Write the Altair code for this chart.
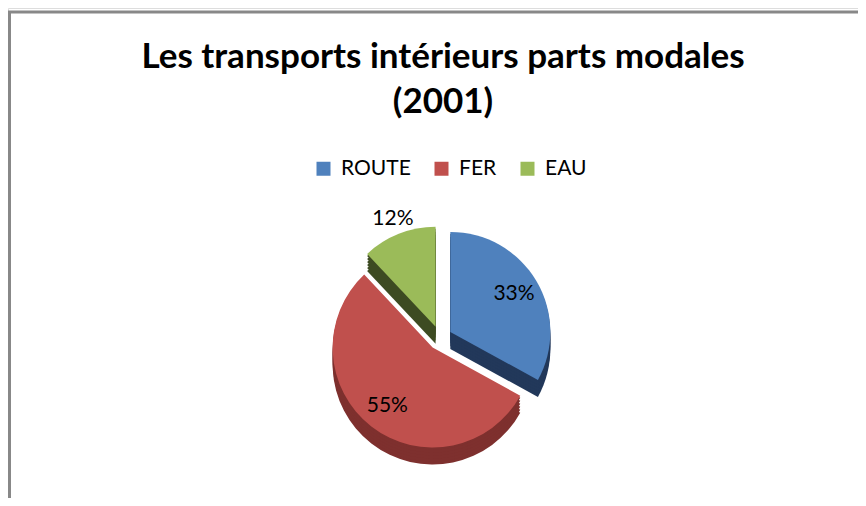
import altair as alt
import pandas as pd

# ---- data ----
categories = ["ROUTE", "FER", "EAU"]
values = [33, 55, 12]
title_lines = ["Les transports intérieurs parts modales", "(2001)"]

# ---- styles ----
top_colors = ["#4F81BD", "#C0504D", "#9BBB59"]
FONT = "Lato"
W, H = 850, 490
CX, CY = 432, 330        # pie centre (chart coords)
R = 100                  # pie radius
EXPLODE = 12
DEPTH = [17, 14, 11, 8, 5, 2]

df = pd.DataFrame({"mode": categories, "part": values})

base = (
    alt.Chart(df)
    .transform_joinaggregate(total="sum(part)")
    .transform_window(cum="sum(part)", frame=[None, 0])
    .transform_calculate(
        t0="(datum.cum - datum.part) / datum.total * 2 * PI",
        t1="datum.cum / datum.total * 2 * PI",
    )
    .transform_calculate(mid="(datum.t0 + datum.t1) / 2")
    .transform_calculate(
        cx=f"{CX} + {EXPLODE} * sin(datum.mid)",
        cy=f"{CY} - {EXPLODE} * cos(datum.mid)",
        side="datum.mode == 'ROUTE' ? '#22385A' : datum.mode == 'FER' ? '#7E302E' : '#3D4B22'",
        lr="datum.mode == 'EAU' ? 116 : 74",
        label="datum.part + '%'",
    )
)

pos = dict(
    theta=alt.Theta("t0:Q", scale=None),
    theta2=alt.Theta2("t1:Q"),
    x=alt.X("cx:Q", scale=None),
    y=alt.Y("cy:Q", scale=None),
)

layers = []

# frame lines
blank = alt.Chart(pd.DataFrame({"k": [0]}))
layers.append(
    blank.mark_rule(color="#888888", strokeWidth=3).encode(
        x=alt.value(0), x2=alt.value(W), y=alt.value(4)
    )
)
layers.append(
    blank.mark_rule(color="#888888", strokeWidth=3).encode(
        x=alt.value(1.5), y=alt.value(3), y2=alt.value(H)
    )
)

# title
for i, t in enumerate(title_lines):
    layers.append(
        blank.mark_text(font=FONT, fontSize=35, fontWeight="bold", color="#000000",
                        baseline="middle", align="center").encode(
            x=alt.value(435), y=alt.value(49 + 45 * i), text=alt.value(t)
        )
    )

# 3D sides
for d in DEPTH:
    layers.append(
        base.mark_arc(radius=R, yOffset=d).encode(
            color=alt.Color("side:N", scale=None), **pos
        )
    )

# top faces
layers.append(
    base.mark_arc(radius=R).encode(
        color=alt.Color(
            "mode:N",
            scale=alt.Scale(domain=categories, range=top_colors),
            legend=alt.Legend(
                orient="none", legendX=305, legendY=150, direction="horizontal",
                title=None, symbolType="square", symbolSize=196,
                symbolStrokeWidth=0, labelFont=FONT, labelFontSize=21,
                labelColor="#000000", columnPadding=20, labelOffset=7,
            ),
        ),
        **pos,
    )
)

# labels
layers.append(
    base.transform_calculate(
        lx="datum.cx + datum.lr * sin(datum.mid)",
        ly="datum.cy - datum.lr * cos(datum.mid)",
    ).mark_text(font=FONT, fontSize=21, color="#000000", baseline="middle").encode(
        x=alt.X("lx:Q", scale=None), y=alt.Y("ly:Q", scale=None), text="label:N"
    )
)

chart = (
    alt.layer(*layers)
    .properties(
        width=W, height=H, padding=0,
        autosize=alt.AutoSizeParams(type="none"),
    )
    .configure_view(stroke=None, strokeWidth=0)
    .configure(background="white")
)

chart.save("out.html", embed_options={"renderer": "svg", "actions": False})
